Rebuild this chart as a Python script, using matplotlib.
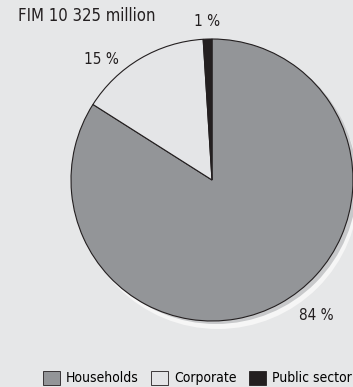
import matplotlib.pyplot as plt
from matplotlib.patches import Circle, Patch

# Data
labels = ['Households', 'Corporate', 'Public sector']
shares = [84, 15, 1]
pct_labels = ['84 %', '15 %', '1 %']
colors = ['#939598', '#e4e5e7', '#231f20']
title = 'FIM 10 325 million'

bg = '#e6e7e8'
plt.rcParams['font.family'] = ['DejaVu Sans']
plt.rcParams['font.stretch'] = 'condensed'

fig = plt.figure(figsize=(3.53, 3.87), dpi=100, facecolor=bg)
ax = fig.add_axes([0, 0, 1, 1])
ax.set_facecolor(bg)

# pixel-like coordinates (y up)
cx, cy, r = 212, 387 - 180, 141

# soft shadow
ax.add_patch(Circle((cx + 6, cy - 8), r, facecolor='#f6f6f6', edgecolor='none', zorder=0))
ax.add_patch(Circle((cx + 4, cy - 3), r, facecolor='#c8c9cb', edgecolor='none', zorder=0))

wedges, _ = ax.pie(shares, colors=colors, startangle=90, counterclock=False,
                   center=(cx, cy), radius=r, frame=True,
                   wedgeprops=dict(edgecolor='#231f20', linewidth=0.8))

ax.set_xlim(0, 353)
ax.set_ylim(0, 387)
ax.set_aspect('equal')
ax.axis('off')

ax.text(18, 387 - 16, title, fontsize=12, color='#231f20', va='center', ha='left')
ax.text(316, 387 - 315, pct_labels[0], fontsize=11, color='#231f20', va='center', ha='center')
ax.text(101, 387 - 60, pct_labels[1], fontsize=11, color='#231f20', va='center', ha='center')
ax.text(207, 387 - 21, pct_labels[2], fontsize=11, color='#231f20', va='center', ha='center')

handles = [Patch(facecolor=c, edgecolor='#231f20', linewidth=0.6) for c in colors]
ax.legend(handles, labels, loc='center right', bbox_to_anchor=(352 / 353, 1 - 378 / 387),
          ncol=3, frameon=False, fontsize=10, handlelength=1.2, handleheight=1.2,
          handletextpad=0.45, columnspacing=0.9, borderpad=0, borderaxespad=0)

fig.savefig('out.png', dpi=100, facecolor=bg)
